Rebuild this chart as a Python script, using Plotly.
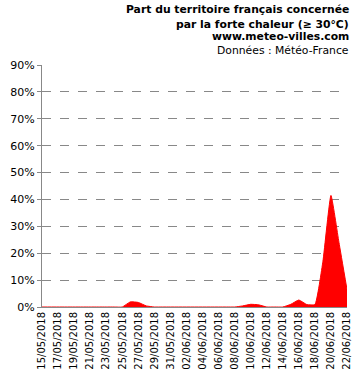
import plotly.graph_objects as go
import pandas as pd

dates = pd.date_range("2018-05-15", "2018-06-22", freq="D")
values = [0, 0, 0, 0, 0, 0, 0, 0, 0, 0,
          0, 1.9, 1.7, 0.4, 0, 0, 0,
          0, 0, 0, 0, 0, 0, 0, 0,
          0.4, 1.0, 0.8, 0, 0, 0,
          1.0, 2.6, 0.9, 0.9, 17, 41.5, 24, 6.5]
yticks = list(range(0, 91, 10))
ytick_text = [f"{v}%" for v in yticks]
title_lines = ["<b>Part du territoire français concernée</b>",
               "<b>par la forte chaleur (≥ 30°C)</b>",
               "<b>www.meteo-villes.com</b>",
               "Données : Météo-France"]

fig = go.Figure()
fig.add_trace(go.Scatter(
    x=dates, y=values, mode="lines",
    line=dict(color="#ff0000", width=1, shape="spline", smoothing=0.4),
    fill="tozeroy", fillcolor="#ff0000", hoverinfo="skip"))

W, H = 355, 372
ml, mr, mt, mb = 42, 8, 65, 65
pw = W - ml - mr
ph = H - mt - mb
for i, (t, yc) in enumerate(zip(title_lines, [10, 24, 37, 50])):
    fig.add_annotation(text=t, xref="paper", yref="paper",
                       x=(351 - ml) / pw, y=(H - mb - yc) / ph,
                       xanchor="right", yanchor="middle", showarrow=False,
                       font=dict(family="DejaVu Sans", size=10.8, color="#000000"))

fig.update_layout(
    width=W, height=H, margin=dict(l=ml, r=mr, t=mt, b=mb, autoexpand=False),
    paper_bgcolor="white", plot_bgcolor="white", showlegend=False,
    font=dict(family="DejaVu Sans", color="#000000"),
    xaxis=dict(type="date", range=[dates[0], dates[-1]], automargin=False,
               tickvals=list(dates[::2]), ticktext=[d.strftime("%d/%m/%Y") for d in dates[::2]],
               tickangle=-90, tickfont=dict(size=10), showgrid=False,
               showline=True, linecolor="#888888", linewidth=1, ticks="", zeroline=False),
    yaxis=dict(range=[0, 90], tickvals=yticks, ticktext=ytick_text, automargin=False,
               tickfont=dict(size=11), showgrid=True, gridcolor="#888888",
               griddash="dash", gridwidth=1, showline=True, linecolor="#888888",
               linewidth=1, ticks="outside", ticklen=4, tickcolor="#888888", zeroline=False),
)
fig.write_html("out.html")
